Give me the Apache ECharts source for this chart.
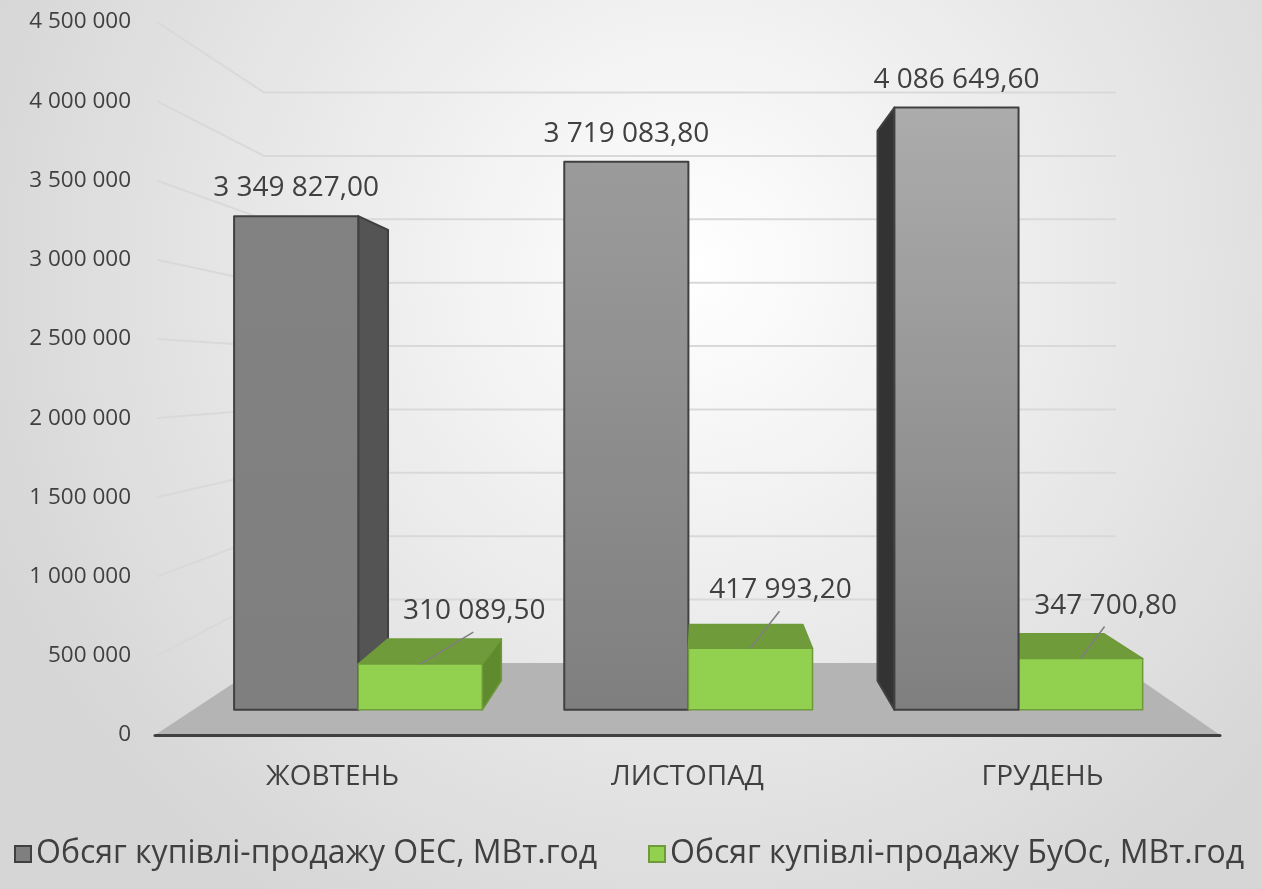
<!DOCTYPE html>
<html>
<head>
<meta charset="utf-8">
<title>Обсяг купівлі-продажу</title>
<script src="https://cdn.jsdelivr.net/npm/echarts@6/dist/echarts.min.js"></script>
<style>
  html, body { margin: 0; padding: 0; }
  #chart { width: 1262px; height: 889px; }
</style>
</head>
<body>
<div id="chart"></div>
<script>
const categories = ['ЖОВТЕНЬ', 'ЛИСТОПАД', 'ГРУДЕНЬ']
const oesValues = [3349827.00, 3719083.80, 4086649.60]
const buosValues = [310089.50, 417993.20, 347700.80]
const yTicks = [0, 500000, 1000000, 1500000, 2000000, 2500000, 3000000, 3500000, 4000000, 4500000]
const seriesNames = ['Обсяг купівлі-продажу ОЕС, МВт.год', 'Обсяг купівлі-продажу БуОс, МВт.год']

// perspective (fractions of the plot rect) and depths of the 3d scene
const VP_X = 0.512
const VP_Y = 0.495
const K_FLOOR = 0.8
const K_FRONT = 0.93
const K_BACK = 0.849
const BAR_W = 0.376 // share of a category taken by one bar

const FONT = '"Open Sans", sans-serif'
const TEXT = '#404040'

// leader lines of the small bars: [dx, dy] from the bar top edge
const leaderShift = [[53, -32], [29, -37], [24, -32]]
// top colour of the gradient on the grey bars
const oesTopColors = ['#828282', '#9b9b9b', '#acacac']

const fmtNum = (v, dec) => {
  const s = v.toFixed(dec).split('.')
  const int = s[0].replace(/\B(?=(\d{3})+(?!\d))/g, ' ')
  return dec ? int + ',' + s[1] : int
}

const vanish = cs => [cs.x + cs.width * VP_X, cs.y + cs.height * VP_Y]

const proj = (cs, k, x, y) => {
  const [vx, vy] = vanish(cs)
  return [vx + k * (x - vx), vy + k * (y - vy)]
}

// back wall, side wall gridlines and floor
function renderFrame(params, api) {
  const cs = params.coordSys
  const left = cs.x
  const right = cs.x + cs.width
  const y0 = api.coord([0, 0])[1]
  const children = []
  yTicks.forEach(v => {
    if (v === 0) return
    const y = api.coord([0, v])[1]
    children.push({
      type: 'polyline',
      shape: { points: [[left + 2, y], proj(cs, K_FLOOR, left, y), proj(cs, K_FLOOR, right, y)] },
      style: { stroke: '#d9d9d9', lineWidth: 2, fill: null }
    })
  })
  children.push({
    type: 'polygon',
    shape: { points: [[left, y0], proj(cs, K_FLOOR, left, y0), proj(cs, K_FLOOR, right, y0), [right, y0]] },
    style: { fill: '#b4b4b4' }
  })
  return { type: 'group', children }
}

function barRenderer(side, look) {
  return function (params, api) {
    const cs = params.coordSys
    const idx = params.dataIndex
    const cat = api.value(0)
    const val = api.value(1)
    const c = api.coord([cat, val])
    const yb = api.coord([cat, 0])[1]
    const w = api.size([1, 0])[0] * BAR_W
    const x0 = side < 0 ? c[0] - w : c[0]
    const x1 = side < 0 ? c[0] : c[0] + w
    const yt = c[1]
    const [vx, vy] = vanish(cs)
    const F = (x, y) => proj(cs, K_FRONT, x, y)
    const B = (x, y) => proj(cs, K_BACK, x, y)
    const z = 1000 - Math.round(Math.abs((x0 + x1) / 2 - vx))
    const edge = { stroke: look.edge, lineWidth: look.edgeWidth, lineJoin: 'round' }
    const kids = []

    // side faces only where they show more than a hairline
    if (B(x1, yt)[0] - F(x1, yt)[0] > 2) {
      kids.push({
        type: 'polygon', z2: z,
        shape: { points: [F(x1, yt), B(x1, yt), B(x1, yb), F(x1, yb)] },
        style: Object.assign({ fill: look.sideRight }, edge)
      })
    }
    if (F(x0, yt)[0] - B(x0, yt)[0] > 2) {
      kids.push({
        type: 'polygon', z2: z,
        shape: { points: [F(x0, yt), B(x0, yt), B(x0, yb), F(x0, yb)] },
        style: Object.assign({ fill: look.sideLeft }, edge)
      })
    }
    if (yt > vy) {
      kids.push({
        type: 'polygon', z2: z + 1,
        shape: { points: [F(x0, yt), F(x1, yt), B(x1, yt), B(x0, yt)] },
        style: Object.assign({ fill: look.top }, edge)
      })
    }
    const p0 = F(x0, yt)
    const p1 = F(x1, yb)
    kids.push({
      type: 'rect', z2: z + 2,
      shape: { x: p0[0], y: p0[1], width: p1[0] - p0[0], height: p1[1] - p0[1] },
      style: Object.assign({ fill: look.front(idx) }, edge)
    })

    const mid = F((x0 + x1) / 2, yt)
    const text = fmtNum(val, 2)
    const font = { fill: TEXT, fontSize: 28, fontFamily: FONT, align: 'center', verticalAlign: 'middle' }
    if (look.leader) {
      const s = leaderShift[idx]
      const end = [mid[0] + s[0], mid[1] + s[1]]
      kids.push({
        type: 'line', z2: 5000,
        shape: { x1: mid[0], y1: mid[1], x2: end[0], y2: end[1] },
        style: { stroke: '#7f7f7f', lineWidth: 1.5 }
      })
      kids.push({
        type: 'text', z2: 5001, x: end[0] + 1, y: end[1] - 21,
        style: Object.assign({ text }, font)
      })
    } else {
      kids.push({
        type: 'text', z2: 5001, x: mid[0], y: mid[1] - 28,
        style: Object.assign({ text }, font)
      })
    }
    return { type: 'group', children: kids }
  }
}

const greyLook = {
  front: i => new echarts.graphic.LinearGradient(0, 0, 0, 1, [
    { offset: 0, color: oesTopColors[i] },
    { offset: 1, color: '#7f7f7f' }
  ]),
  sideRight: '#545454',
  sideLeft: '#333333',
  top: '#6a6a6a',
  edge: '#404040',
  edgeWidth: 2,
  leader: false
}

const greenLook = {
  front: () => '#92d050',
  sideRight: '#5f8b2e',
  sideLeft: '#5f8b2e',
  top: '#6f9b3b',
  edge: '#6e9a3a',
  edgeWidth: 1.5,
  leader: true
}

const legendBase = {
  top: 838,
  padding: 0,
  icon: 'rect',
  itemWidth: 16,
  itemHeight: 16,
  textStyle: { fontSize: 32, color: TEXT, fontFamily: FONT }
}

const chart = echarts.init(document.getElementById('chart'))

const option = {
  animation: false,
  backgroundColor: new echarts.graphic.RadialGradient(0.55, 0.3, 0.85, [
    { offset: 0, color: '#ffffff' },
    { offset: 1, color: '#d6d6d6' }
  ]),
  textStyle: { fontFamily: FONT },
  grid: { left: 155, right: 42, top: 22, bottom: 154 },
  legend: [
    Object.assign({ data: [seriesNames[0]], left: 14 }, legendBase),
    Object.assign({ data: [seriesNames[1]], left: 648 }, legendBase)
  ],
  xAxis: {
    type: 'category',
    data: categories,
    z: 3,
    axisLine: { lineStyle: { color: '#404040', width: 3 } },
    axisTick: { show: false },
    splitLine: { show: false },
    axisLabel: { color: TEXT, fontSize: 28, fontFamily: FONT, margin: 28 }
  },
  yAxis: {
    type: 'value',
    min: yTicks[0],
    max: yTicks[yTicks.length - 1],
    interval: yTicks[1] - yTicks[0],
    axisLine: { show: false },
    axisTick: { show: false },
    splitLine: { show: false },
    axisLabel: { color: TEXT, fontSize: 22.5, fontFamily: FONT, margin: 24, formatter: v => fmtNum(v, 0) }
  },
  series: [
    {
      name: 'frame',
      type: 'custom',
      z: 1,
      silent: true,
      renderItem: renderFrame,
      data: [[0, 0]]
    },
    {
      name: seriesNames[0],
      type: 'custom',
      renderItem: barRenderer(-1, greyLook),
      itemStyle: { color: '#7f7f7f', borderColor: '#404040', borderWidth: 1.5 },
      data: oesValues.map((v, i) => [i, v])
    },
    {
      name: seriesNames[1],
      type: 'custom',
      renderItem: barRenderer(1, greenLook),
      itemStyle: { color: '#92d050', borderColor: '#6e9a3a', borderWidth: 1.5 },
      data: buosValues.map((v, i) => [i, v])
    }
  ]
}

chart.setOption(option)
window.addEventListener('resize', () => chart.resize())
</script>
</body>
</html>
